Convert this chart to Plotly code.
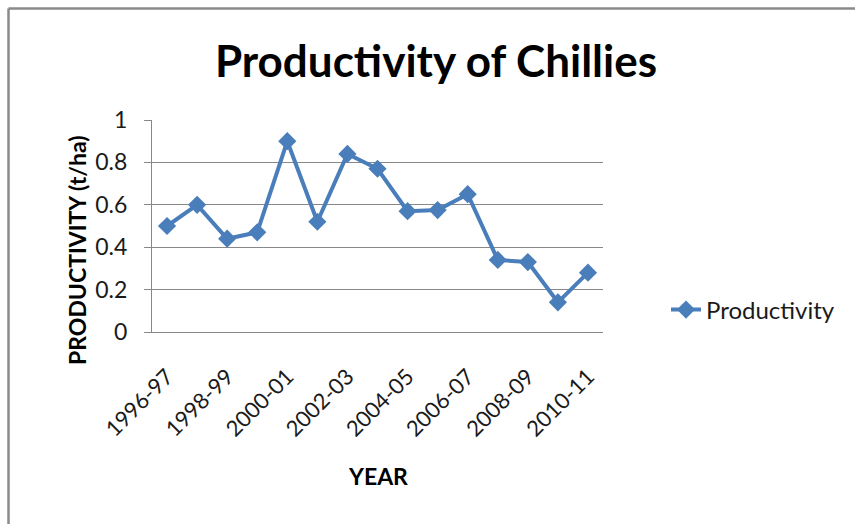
import plotly.graph_objects as go

# Chilli productivity by crop year (t/ha)
years = ["1996-97", "1997-98", "1998-99", "1999-00", "2000-01", "2001-02",
         "2002-03", "2003-04", "2004-05", "2005-06", "2006-07", "2007-08",
         "2008-09", "2009-10", "2010-11"]
productivity = [0.50, 0.60, 0.44, 0.47, 0.90, 0.52, 0.84, 0.77,
                0.57, 0.575, 0.65, 0.34, 0.33, 0.14, 0.28]
y_ticks = [0, 0.2, 0.4, 0.6, 0.8, 1]

W, H = 855, 524
L, R, T, B = 152, 252, 120, 192
PW, PH = W - L - R, H - T - B

def px(x):
    return (x - L) / PW

def py(y):
    return (H - B - y) / PH

FONT = "Lato"
TEXT = "#1a1a1a"
GRID = "#888888"
BLUE = "#4A7EBB"

fig = go.Figure()
fig.add_trace(go.Scatter(
    x=years, y=productivity, mode="lines+markers", name="Productivity",
    line=dict(color=BLUE, width=4),
    marker=dict(symbol="diamond", size=14, color=BLUE),
))

fig.update_layout(
    width=W, height=H,
    margin=dict(l=L, r=R, t=T, b=B, autoexpand=False),
    paper_bgcolor="white", plot_bgcolor="white",
    font=dict(family=FONT, color=TEXT, size=22),
    title=dict(text="<b>Productivity of Chillies</b>", x=436 / W, xanchor="center",
               y=1 - 62 / H, yanchor="middle",
               font=dict(family=FONT, size=44, color="black")),
    showlegend=True,
    legend=dict(x=px(666), y=py(310), xanchor="left", yanchor="middle",
                font=dict(size=24, color=TEXT), bgcolor="rgba(0,0,0,0)"),
    xaxis=dict(type="category", range=[-0.5, len(years) - 0.5],
               tickvals=years[::2], ticktext=years[::2],
               tickangle=-45, tickfont=dict(size=22), ticklabelstandoff=22,
               showgrid=False, showline=True, linecolor=GRID, linewidth=1,
               ticks=""),
    yaxis=dict(range=[0, 1], tickvals=y_ticks, ticktext=[str(v) for v in y_ticks],
               showgrid=True, gridcolor=GRID, gridwidth=1,
               showline=True, linecolor=GRID, linewidth=1,
               ticks="outside", ticklen=7, tickcolor=GRID,
               tickfont=dict(size=23), ticklabelstandoff=12, zeroline=False),
    annotations=[
        dict(text="<b>PRODUCTIVITY (t/ha)</b>", textangle=-90,
             x=px(61), y=py(250), xref="paper", yref="paper",
             showarrow=False, font=dict(size=23, color="black")),
        dict(text="<b>YEAR</b>", x=px(378), y=py(492), xref="paper", yref="paper",
             showarrow=False, font=dict(size=23, color="black")),
    ],
    shapes=[
        dict(type="line", xref="paper", yref="paper", x0=px(8.5), x1=px(8.5),
             y0=py(8.5), y1=py(540), line=dict(color="#8a8a8a", width=2.5)),
        dict(type="line", xref="paper", yref="paper", x0=px(8.5), x1=px(870),
             y0=py(8.5), y1=py(8.5), line=dict(color="#8a8a8a", width=2.5)),
    ],
)

fig.write_html("out.html")
